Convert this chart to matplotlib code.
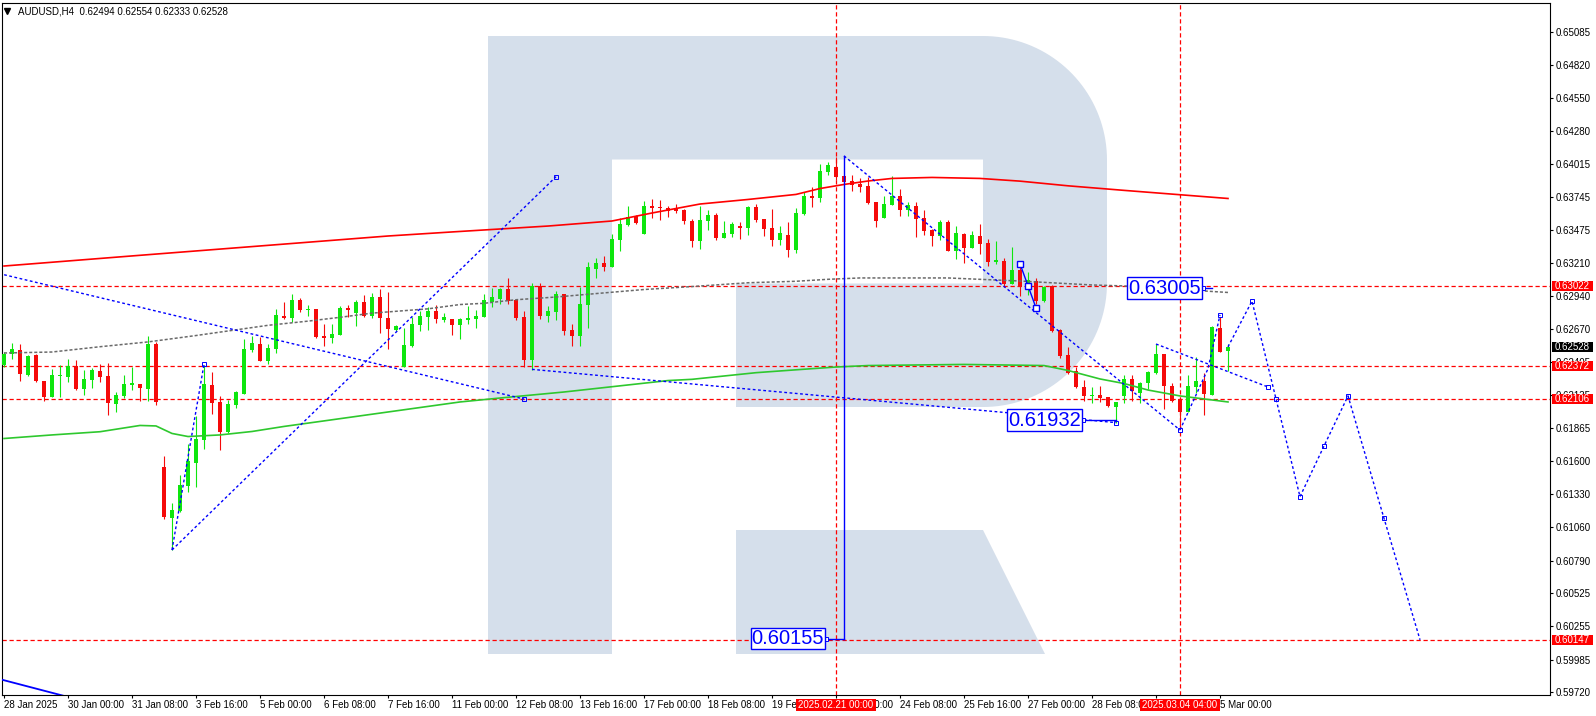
import numpy as np
import matplotlib
matplotlib.use("Agg")
import matplotlib.pyplot as plt
from matplotlib.patches import Polygon, Rectangle
from matplotlib.transforms import blended_transform_factory as blend

plt.rcParams['font.family'] = ['Liberation Sans', 'DejaVu Sans']

W, H = 1596, 716
SYMBOL = 'AUDUSD,H4'

# H4 candles, bar 0 = 28 Jan 2025 16:00
opens = [
    0.62380, 0.62467, 0.62502, 0.62299, 0.62461, 0.62250, 0.62123, 0.62293, 0.62283, 0.62372,
    0.62185, 0.62261, 0.62331, 0.62291, 0.62066, 0.62128, 0.62220, 0.62226, 0.62185, 0.62551,
    0.61551, 0.61139, 0.61196, 0.61399, 0.61586, 0.61773, 0.62218, 0.62080, 0.61838, 0.62058,
    0.62147, 0.62505, 0.62551, 0.62415, 0.62510, 0.62779, 0.62765, 0.62909, 0.62830, 0.62836,
    0.62616, 0.62600, 0.62624, 0.62844, 0.62803, 0.62893, 0.62779, 0.62933, 0.62763, 0.62665,
    0.62367, 0.62535, 0.62706, 0.62771, 0.62820, 0.62746, 0.62755, 0.62706, 0.62746, 0.62755,
    0.62771, 0.62893, 0.62917, 0.62998, 0.62909, 0.62771, 0.62421, 0.63023, 0.62779, 0.62814,
    0.62957, 0.62665, 0.62619, 0.62871, 0.63163, 0.63209, 0.63180, 0.63399, 0.63518, 0.63592,
    0.63448, 0.63673, 0.63665, 0.63657, 0.63657, 0.63640, 0.63551, 0.63388, 0.63551, 0.63600,
    0.63413, 0.63445, 0.63510, 0.63494, 0.63665, 0.63567, 0.63494, 0.63396, 0.63437, 0.63315,
    0.63608, 0.63754, 0.63738, 0.63949, 0.63990, 0.63917, 0.63876, 0.63855, 0.63836, 0.63705,
    0.63575, 0.63681, 0.63754, 0.63640, 0.63673, 0.63575, 0.63478, 0.63429, 0.63543, 0.63307,
    0.63445, 0.63332, 0.63429, 0.63372, 0.63218, 0.63226, 0.63039, 0.63153, 0.63017, 0.63063,
    0.62903, 0.63023, 0.62665, 0.62462, 0.62334, 0.62204, 0.62128, 0.62134, 0.62120, 0.62042,
    0.62131, 0.62267, 0.62156, 0.62231, 0.62313, 0.62470, 0.62212, 0.62101, 0.62001, 0.62204,
    0.62250, 0.62136, 0.62679, 0.62494,
]
highs = [
    0.62489, 0.62562, 0.62551, 0.62461, 0.62467, 0.62252, 0.62348, 0.62377, 0.62426, 0.62421,
    0.62340, 0.62359, 0.62388, 0.62399, 0.62161, 0.62299, 0.62367, 0.62228, 0.62619, 0.62570,
    0.61640, 0.61261, 0.61486, 0.61738, 0.61968, 0.62380, 0.62326, 0.62128, 0.62096, 0.62171,
    0.62592, 0.62616, 0.62605, 0.62551, 0.62833, 0.62893, 0.62960, 0.62928, 0.62868, 0.62838,
    0.62714, 0.62714, 0.62860, 0.62871, 0.62906, 0.62952, 0.62968, 0.62998, 0.62974, 0.62708,
    0.62681, 0.62773, 0.62822, 0.62852, 0.62868, 0.62803, 0.62757, 0.62763, 0.62860, 0.62828,
    0.62958, 0.63006, 0.63006, 0.63088, 0.62917, 0.62820, 0.63047, 0.63047, 0.62863, 0.62982,
    0.62960, 0.62714, 0.63017, 0.63218, 0.63250, 0.63266, 0.63445, 0.63575, 0.63673, 0.63597,
    0.63713, 0.63730, 0.63722, 0.63673, 0.63689, 0.63648, 0.63567, 0.63673, 0.63640, 0.63616,
    0.63554, 0.63543, 0.63543, 0.63673, 0.63689, 0.63570, 0.63648, 0.63510, 0.63543, 0.63657,
    0.63787, 0.63827, 0.64014, 0.64031, 0.64071, 0.63928, 0.63925, 0.63901, 0.63911, 0.63708,
    0.63754, 0.63917, 0.63811, 0.63705, 0.63705, 0.63640, 0.63486, 0.63559, 0.63559, 0.63510,
    0.63453, 0.63470, 0.63527, 0.63405, 0.63388, 0.63250, 0.63340, 0.63202, 0.63136, 0.63088,
    0.63023, 0.63031, 0.62670, 0.62530, 0.62367, 0.62259, 0.62199, 0.62210, 0.62123, 0.62082,
    0.62299, 0.62299, 0.62245, 0.62334, 0.62551, 0.62473, 0.62231, 0.62104, 0.62299, 0.62443,
    0.62313, 0.62697, 0.62773, 0.62554,
]
lows = [
    0.62367, 0.62429, 0.62250, 0.62291, 0.62242, 0.62090, 0.62121, 0.62123, 0.62245, 0.62177,
    0.62136, 0.62196, 0.62239, 0.61976, 0.61998, 0.62112, 0.62177, 0.62087, 0.62087, 0.62058,
    0.61125, 0.60876, 0.61188, 0.61350, 0.61391, 0.61697, 0.61982, 0.61689, 0.61825, 0.62028,
    0.62147, 0.62483, 0.62415, 0.62391, 0.62475, 0.62752, 0.62727, 0.62814, 0.62782, 0.62603,
    0.62535, 0.62562, 0.62622, 0.62773, 0.62700, 0.62773, 0.62763, 0.62641, 0.62510, 0.62657,
    0.62361, 0.62527, 0.62657, 0.62665, 0.62722, 0.62730, 0.62624, 0.62592, 0.62714, 0.62681,
    0.62771, 0.62852, 0.62876, 0.62876, 0.62746, 0.62367, 0.62340, 0.62755, 0.62733, 0.62749,
    0.62624, 0.62537, 0.62537, 0.62684, 0.63090, 0.63147, 0.63177, 0.63310, 0.63510, 0.63527,
    0.63445, 0.63575, 0.63559, 0.63583, 0.63616, 0.63527, 0.63340, 0.63323, 0.63478, 0.63396,
    0.63413, 0.63421, 0.63405, 0.63437, 0.63543, 0.63429, 0.63348, 0.63356, 0.63258, 0.63291,
    0.63600, 0.63665, 0.63705, 0.63925, 0.63884, 0.63865, 0.63795, 0.63789, 0.63689, 0.63502,
    0.63575, 0.63678, 0.63592, 0.63592, 0.63421, 0.63437, 0.63348, 0.63397, 0.63304, 0.63242,
    0.63210, 0.63329, 0.63283, 0.63185, 0.63201, 0.63014, 0.63039, 0.62941, 0.62949, 0.62876,
    0.62890, 0.62651, 0.62435, 0.62307, 0.62191, 0.62090, 0.62074, 0.62082, 0.62042, 0.61912,
    0.62069, 0.62088, 0.62074, 0.62188, 0.62307, 0.62025, 0.62082, 0.61879, 0.61999, 0.62150,
    0.61974, 0.62134, 0.62486, 0.62333,
]
closes = [
    0.62470, 0.62510, 0.62310, 0.62453, 0.62250, 0.62123, 0.62299, 0.62302, 0.62372, 0.62185,
    0.62266, 0.62340, 0.62285, 0.62074, 0.62136, 0.62226, 0.62237, 0.62193, 0.62551, 0.62082,
    0.61147, 0.61201, 0.61405, 0.61600, 0.61779, 0.62226, 0.62074, 0.61838, 0.62063, 0.62163,
    0.62510, 0.62559, 0.62415, 0.62518, 0.62787, 0.62760, 0.62909, 0.62828, 0.62836, 0.62611,
    0.62603, 0.62633, 0.62844, 0.62828, 0.62893, 0.62779, 0.62933, 0.62763, 0.62673, 0.62698,
    0.62543, 0.62714, 0.62779, 0.62820, 0.62755, 0.62771, 0.62706, 0.62755, 0.62763, 0.62779,
    0.62909, 0.62933, 0.62998, 0.62901, 0.62763, 0.62421, 0.63023, 0.62779, 0.62820, 0.62960,
    0.62659, 0.62619, 0.62876, 0.63177, 0.63209, 0.63180, 0.63405, 0.63527, 0.63581, 0.63535,
    0.63673, 0.63657, 0.63657, 0.63632, 0.63632, 0.63551, 0.63388, 0.63559, 0.63600, 0.63413,
    0.63453, 0.63527, 0.63494, 0.63665, 0.63559, 0.63486, 0.63396, 0.63453, 0.63315, 0.63616,
    0.63754, 0.63738, 0.63957, 0.64006, 0.63909, 0.63868, 0.63846, 0.63830, 0.63697, 0.63551,
    0.63689, 0.63754, 0.63640, 0.63681, 0.63567, 0.63470, 0.63429, 0.63543, 0.63307, 0.63453,
    0.63332, 0.63437, 0.63364, 0.63218, 0.63234, 0.63039, 0.63153, 0.63017, 0.63071, 0.62901,
    0.63017, 0.62660, 0.62454, 0.62318, 0.62204, 0.62131, 0.62134, 0.62115, 0.62050, 0.62080,
    0.62269, 0.62172, 0.62237, 0.62327, 0.62473, 0.62212, 0.62090, 0.61996, 0.62210, 0.62250,
    0.62142, 0.62692, 0.62489, 0.62528,
]

# moving averages (bar index, value)
red_ma_bars = [0, 16, 32, 48, 56, 68, 76, 81, 87, 93, 99, 102, 105, 108, 111, 116, 122, 127, 133, 140, 153]
red_ma_vals = [0.63185, 0.63267, 0.63348, 0.63429, 0.63462, 0.63510, 0.63551, 0.63616, 0.63689, 0.63726,
               0.63767, 0.63815, 0.63848, 0.63876, 0.63897, 0.63905, 0.63897, 0.63875, 0.63837, 0.63800,
               0.63734]
green_ma_bars = [0, 6, 12, 17, 19, 21, 23, 27, 31, 35, 39, 57, 62, 70, 83, 86, 94, 100, 104, 108,
                 120, 130, 133, 137, 140, 143, 147, 153]
green_ma_vals = [0.61783, 0.61812, 0.61838, 0.61889, 0.61885, 0.61824, 0.61799, 0.61812, 0.61840, 0.61881,
                 0.61917, 0.62080, 0.62112, 0.62161, 0.62254, 0.62264, 0.62318, 0.62346, 0.62364, 0.62376,
                 0.62385, 0.62376, 0.62336, 0.62267, 0.62230, 0.62177, 0.62129, 0.62080]
gray_ma_bars = [0, 6, 12, 18, 24, 28, 33, 38, 42, 46, 50, 53, 57, 60, 64, 69, 74, 80, 86, 93,
                99, 103, 107, 118, 127, 132, 136, 140, 153]
gray_ma_vals = [0.62478, 0.62486, 0.62529, 0.62568, 0.62620, 0.62657, 0.62703, 0.62737, 0.62768, 0.62802,
                0.62822, 0.62837, 0.62872, 0.62882, 0.62911, 0.62933, 0.62961, 0.62994, 0.63018, 0.63049,
                0.63061, 0.63077, 0.63088, 0.63088, 0.63063, 0.63045, 0.63031, 0.63023, 0.62970]

# drawn objects: (bar, price) anchors
trend_lines = [
    [(-1, 0.63130), (65, 0.62104)],
    [(21, 0.60877), (69, 0.63911)],
    [(21, 0.60877), (25, 0.62386)],
    [(66, 0.62345), (139, 0.61912)],
    [(105, 0.64080), (147, 0.61852)],
    [(144, 0.62551), (158, 0.62202)],
    [(147, 0.61852), (150.5, 0.62350), (152, 0.62787)],
]
forecast_bars = [153, 156, 159, 162, 165, 168, 172.5, 177]
forecast_vals = [0.62528, 0.62900, 0.62105, 0.61310, 0.61722, 0.62129, 0.61134, 0.60147]
corner_line = [(-1, 0.59835), (8, 0.59682)]
wave_bars = [127, 128, 129]
wave_vals = [0.63202, 0.63025, 0.62845]
target_bar, target_top, target_val = 105, 0.64080, 0.60155

price_labels = [(145.06, 0.63005, 151.0), (130.06, 0.61932, 139.0), (98.0, 0.60155, 105.0)]

levels = [0.63022, 0.62372, 0.62106, 0.60147]
vline_bars = [104, 147]
vline_labels = ['2025.02.21 00:00', '2025.03.04 04:00']

tick_bars = list(range(0, 160, 8))
time_labels = ['28 Jan 2025', '30 Jan 00:00', '31 Jan 08:00', '3 Feb 16:00', '5 Feb 00:00',
               '6 Feb 08:00', '7 Feb 16:00', '11 Feb 00:00', '12 Feb 08:00', '13 Feb 16:00',
               '17 Feb 00:00', '18 Feb 08:00', '19 Feb 16:00', '21 Feb 00:00', '24 Feb 08:00',
               '25 Feb 16:00', '27 Feb 00:00', '28 Feb 08:00', '3 Mar 16:00', '5 Mar 00:00']
price_ticks = [0.65085, 0.64820, 0.64550, 0.64280, 0.64015, 0.63745, 0.63475, 0.63210,
               0.62940, 0.62670, 0.62405, 0.62135, 0.61865, 0.61600, 0.61330, 0.61060,
               0.60790, 0.60525, 0.60255, 0.59985, 0.59720]

YMIN, YMAX = 0.59698, 0.65323
XMIN, XMAX = -0.25, 193.25

BULL = '#0ee60e'
BEAR = '#f50a0a'
BLUE = '#0000ff'
R_COLOR = '#d5dfeb'

fig = plt.figure(figsize=(W / 100, H / 100), dpi=100)

# background + watermark, drawn in pixel space
bg = fig.add_axes([0, 0, 1, 1])
bg.set_xlim(0, W)
bg.set_ylim(H, 0)
bg.axis('off')
t = np.linspace(0, np.pi / 2, 40)
top_arc = np.column_stack([983 + 124 * np.sin(t), 160 - 124 * np.cos(t)])
bot_arc = np.column_stack([983 + 124 * np.cos(t), 283 + 124 * np.sin(t)])
bowl = np.vstack([[[612, 36]], top_arc, bot_arc,
                  [[736, 407], [736, 283.5], [983, 283.5], [983, 159.5], [612, 159.5]]])
bg.add_patch(Rectangle((488, 36), 124, 618, fc=R_COLOR, ec='none'))
bg.add_patch(Polygon(bowl, closed=True, fc=R_COLOR, ec='none'))
bg.add_patch(Polygon([(736, 530), (983, 530), (1045, 654), (736, 654)], closed=True,
                     fc=R_COLOR, ec='none'))

ax = fig.add_axes([2 / W, 1 - 695 / H, 1548 / W, 692 / H])
ax.set_facecolor('none')
ax.set_xlim(XMIN, XMAX)
ax.set_ylim(YMIN, YMAX)

o, h, l, c = (np.array(a) for a in (opens, highs, lows, closes))
x = np.arange(len(c))
cols = np.where(c >= o, BULL, BEAR)
ax.vlines(x, l, h, colors=cols, lw=0.8, zorder=3)
ax.bar(x, np.maximum(np.abs(c - o), 0.00008), bottom=np.minimum(o, c), width=0.62,
       color=cols, lw=0, zorder=4)

ax.plot(red_ma_bars, red_ma_vals, color='#ff0000', lw=1.2, zorder=5)
ax.plot(green_ma_bars, green_ma_vals, color='#2ec82e', lw=1.2, zorder=5)
ax.plot(gray_ma_bars, gray_ma_vals, color='#6a6a6a', lw=1.1, dashes=(2, 1.3), zorder=5)

for lv in levels:
    ax.axhline(lv, color='#ff0000', lw=0.9, dashes=(3.4, 2.2), zorder=2)
for vb in vline_bars:
    ax.axvline(vb, color='#ff0000', lw=0.9, dashes=(3.4, 2.2), zorder=2)

for pts in trend_lines:
    xs, ys = zip(*pts)
    ax.plot(xs, ys, color=BLUE, lw=1.0, dashes=(2, 1.8), zorder=6)
    ax.plot(xs[-1], ys[-1], 's', ms=3.5, mfc='none', mec=BLUE, mew=0.7, zorder=6)
ax.plot(forecast_bars, forecast_vals, color=BLUE, lw=1.0, dashes=(2, 1.8), zorder=6)
ax.plot(forecast_bars[1:-1], forecast_vals[1:-1], 's', ms=3.5, mfc='none', mec=BLUE,
        mew=0.7, zorder=6)
xs, ys = zip(*corner_line)
ax.plot(xs, ys, color=BLUE, lw=1.3, zorder=6)
ax.plot(wave_bars, wave_vals, color=BLUE, lw=1.0, marker='s', ms=4.5, mfc='white',
        mec=BLUE, mew=1.0, zorder=7)
ax.plot([target_bar, target_bar], [target_top, target_val], color=BLUE, lw=1.0, zorder=6)

for bx, val, anchor in price_labels:
    ax.plot([bx + 4.6, anchor], [val, val], color=BLUE, lw=1.0, zorder=7)
    ax.plot(bx + 4.8, val, 's', ms=3, mfc='white', mec=BLUE, mew=0.7, zorder=7)
    ax.text(bx, val, f'{val:.5f}', fontsize=14.5, color=BLUE, ha='center', va='center',
            zorder=8, bbox=dict(boxstyle='square,pad=0.06', fc='white', ec=BLUE, lw=1.0))

# axes styling
for s in ax.spines.values():
    s.set_linewidth(0.8)
    s.set_color('black')
ax.yaxis.tick_right()
ax.set_yticks(price_ticks)
ax.set_yticklabels([f'{p:.5f}' for p in price_ticks])
ax.set_xticks(tick_bars)
ax.set_xticklabels(time_labels)
for lbl in ax.get_xticklabels():
    lbl.set_ha('left')
ax.tick_params(axis='y', length=2, width=0.8, pad=2.2, labelsize=7)
ax.tick_params(axis='x', length=2.5, width=0.8, pad=1.2, labelsize=7)

# coloured price tags on the right axis
ty = blend(fig.transFigure, ax.transData)
box_h = 10.5 * (YMAX - YMIN) / 692
tags = levels + [closes[-1]]
tag_cols = ['#ff0000'] * len(levels) + ['black']
for val, col in zip(tags, tag_cols):
    ax.add_patch(Rectangle((1552 / W, val - box_h / 2), 41 / W, box_h, transform=ty,
                           fc=col, ec='none', clip_on=False, zorder=10))
    ax.text(1572.5 / W, val, f'{val:.5f}', transform=ty, color='white', fontsize=7,
            ha='center', va='center', zorder=11, clip_on=False)

# time tags on the bottom axis
tx = blend(ax.transData, fig.transFigure)
for vb, s in zip(vline_bars, vline_labels):
    ax.add_patch(Rectangle((vb - 5, 1 - 710.5 / H), 10, 12 / H, transform=tx,
                           fc='#ff0000', ec='none', clip_on=False, zorder=10))
    ax.text(vb, 1 - 704.5 / H, s, transform=tx, color='white', fontsize=7,
            ha='center', va='center', zorder=11, clip_on=False)

# symbol header
bg.plot(7, 11, marker='v', ms=4, color='black')
bg.text(18, 11, f'{SYMBOL}  {o[-1]:.5f} {h[-1]:.5f} {l[-1]:.5f} {c[-1]:.5f}',
        fontsize=7, va='center', ha='left', zorder=20)

fig.savefig('out.png', dpi=100)
